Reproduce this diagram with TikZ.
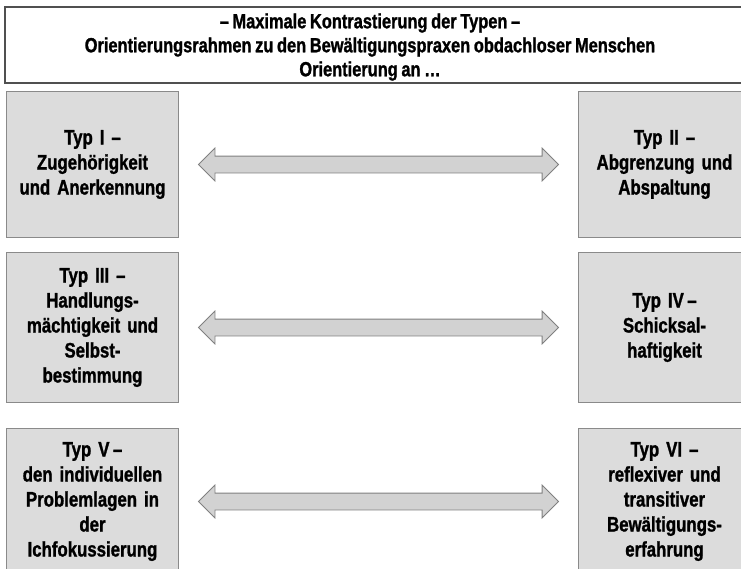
\documentclass[tikz,border=0pt]{standalone}
\usepackage{fontspec}
\setmainfont{Liberation Sans}[FakeStretch=0.8]
\usetikzlibrary{shapes.arrows,calc}
\definecolor{boxfill}{HTML}{DCDCDC}
\definecolor{boxline}{HTML}{8A8A8A}
\definecolor{arrfill}{HTML}{D2D2D2}
\definecolor{arrline}{HTML}{808080}
\definecolor{titleline}{HTML}{505050}
\newfontfamily\heavyfont{Liberation Sans Bold}[FakeStretch=0.8,FakeBold=1.2,WordSpace=0.8]
\tikzset{
  typbox/.style={draw=boxline, line width=1pt, fill=boxfill, anchor=north west,
    minimum width=172pt, inner sep=2pt, text width=168pt, align=center,
    font=\heavyfont\fontsize{21pt}{25pt}\selectfont},
  dblarrow/.style={double arrow, draw=arrline, fill=arrfill, line width=0.8pt,
    minimum height=360pt, inner sep=8pt, double arrow head extend=8pt},
  titletext/.style={align=center, font=\heavyfont\fontsize{20.5pt}{24pt}\selectfont}
}
\begin{document}
\begin{tikzpicture}[x=1pt,y=-1pt]
\useasboundingbox (0,0) rectangle (741,568);
\fill[white] (0,0) rectangle (741,568);
\draw[titleline, line width=1.5pt] (5,7) rectangle (760,83);
\node[titletext] (title) at (370,47) {– Maximale Kontrastierung der Typen –\\Orientierungsrahmen zu den Bewältigungspraxen obdachloser Menschen\\Orientierung an …};
\node[typbox, minimum height=146pt] (t1) at (6,91) {Typ I –\\Zugehörigkeit\\und Anerkennung};
\node[typbox, minimum height=146pt] (t2) at (578,91) {Typ II –\\Abgrenzung und\\Abspaltung};
\node[typbox, minimum height=150pt] (t3) at (6,252) {Typ III –\\Handlungs-\\mächtigkeit und\\Selbst-\\bestimmung};
\node[typbox, minimum height=150pt] (t4) at (578,252) {Typ IV\,–\\Schicksal-\\haftigkeit};
\node[typbox, minimum height=146pt] (t5) at (6,428) {Typ V\,–\\den individuellen\\Problemlagen in\\der\\Ichfokussierung};
\node[typbox, minimum height=146pt] (t6) at (578,428) {Typ VI –\\reflexiver und\\transitiver\\Bewältigungs-\\erfahrung};
\node[dblarrow] (a1) at ($(t1.east)!0.5!(t2.west)$) {};
\node[dblarrow] (a2) at ($(t3.east)!0.5!(t4.west)$) {};
\node[dblarrow] (a3) at ($(t5.east)!0.5!(t6.west)$) {};
\end{tikzpicture}
\end{document}
